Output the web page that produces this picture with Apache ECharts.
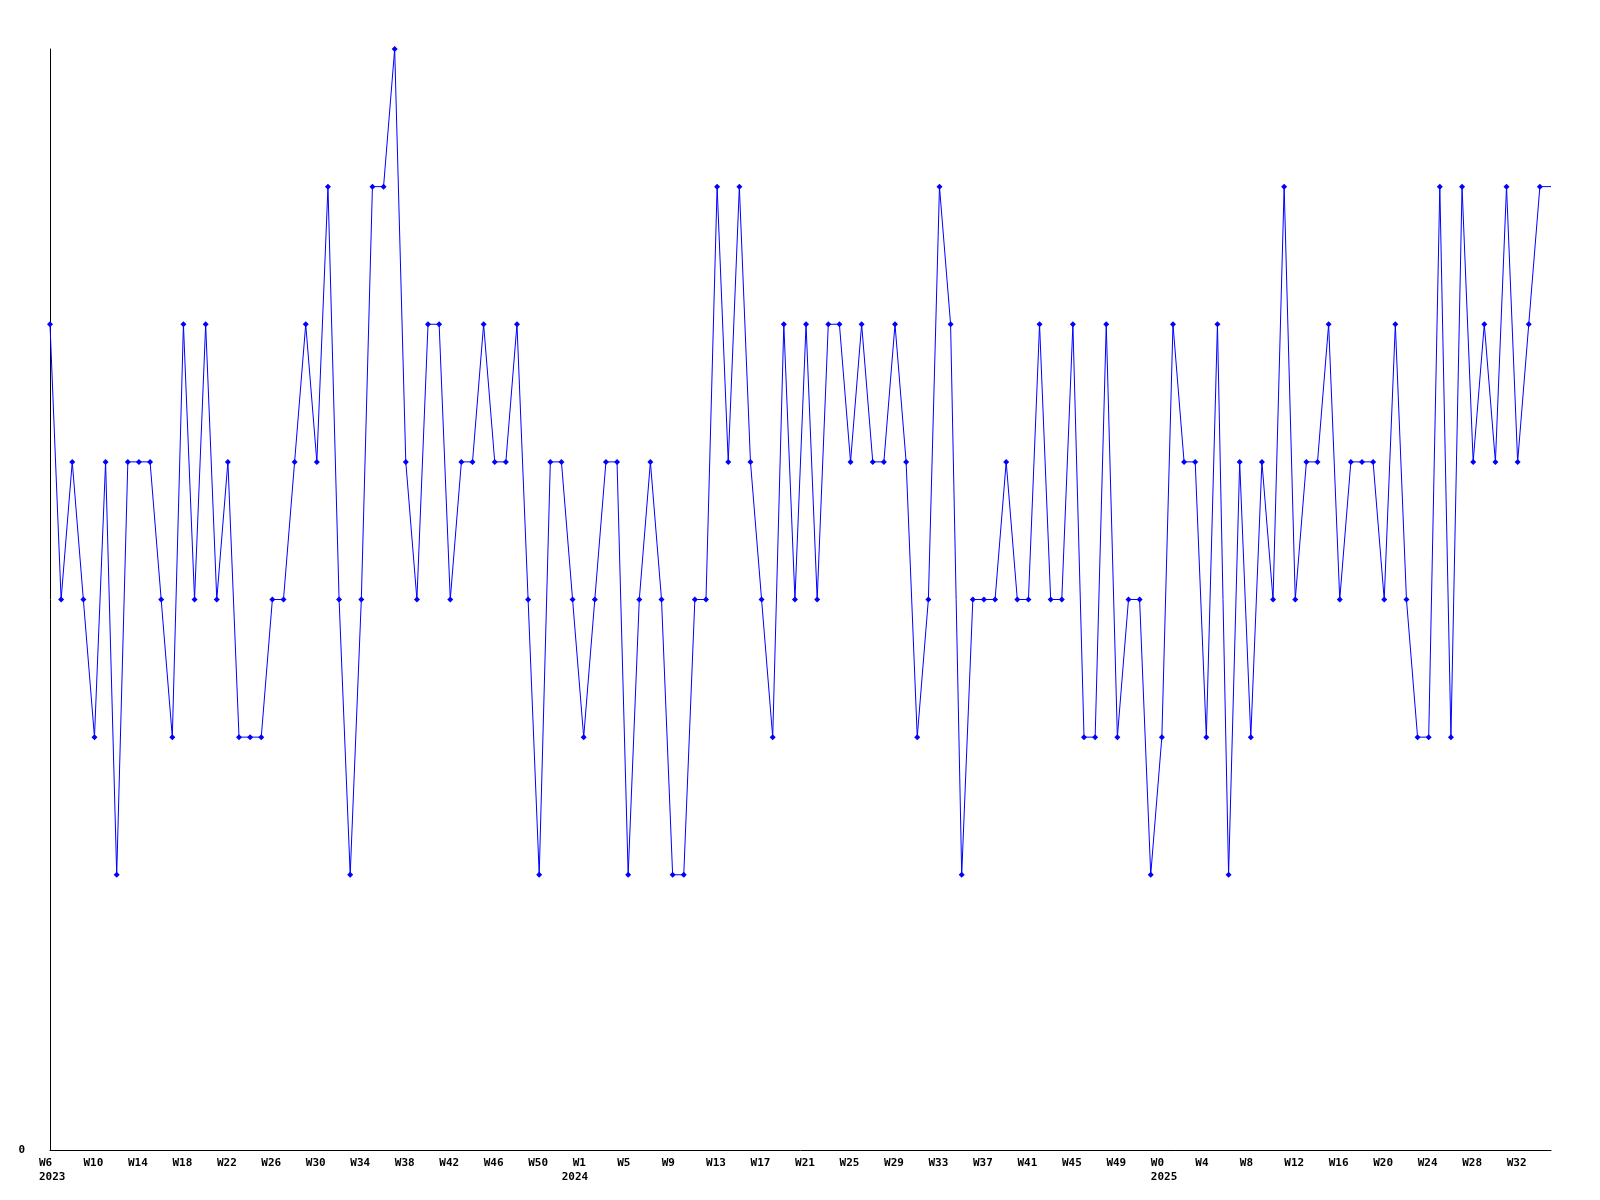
<!DOCTYPE html>
<html>
<head>
<meta charset="utf-8">
<script src="https://cdn.jsdelivr.net/npm/echarts@6/dist/echarts.min.js"></script>
<style>
html,body{margin:0;padding:0;background:#fff;}
#chart{width:1600px;height:1200px;}
</style>
</head>
<body>
<div id="chart"></div>
<script>
// Weekly values, first point W6 2023
const values = [
  6,4,5,4,3,5,2,5,5,5,
  4,3,6,4,6,4,5,3,3,3,
  4,4,5,6,5,7,4,2,4,7,
  7,8,5,4,6,6,4,5,5,6,
  5,5,6,4,2,5,5,4,3,4,
  5,5,2,4,5,4,2,2,4,4,
  7,5,7,5,4,3,6,4,6,4,
  6,6,5,6,5,5,6,5,3,4,
  7,6,2,4,4,4,5,4,4,6,
  4,4,6,3,3,6,3,4,4,2,
  3,6,5,5,3,6,2,5,3,5,
  4,7,4,5,5,6,4,5,5,5,
  4,6,4,3,3,7,3,7,5,6,
  5,7,5,6,7,7
];
// Tick labels, one every 4 weeks
const tickLabels = [
  'W6','W10','W14','W18','W22','W26','W30','W34','W38','W42','W46','W50',
  'W1','W5','W9','W13','W17','W21','W25','W29','W33','W37','W41','W45','W49',
  'W0','W4','W8','W12','W16','W20','W24','W28','W32'
];
// Year shown under the given tick label index
const tickYears = {0: '2023', 12: '2024', 25: '2025'};
const tickEvery = 4;

// layout: year labels that sit a little before their week label
const yearLead = {12: true};

const categories = values.map((v, i) => String(i));
const seriesData = values.map((v, i) => i === values.length - 1 ? {value: v, symbol: 'none'} : v);

const chart = echarts.init(document.getElementById('chart'));
const font = '"DejaVu Sans Mono", monospace';
const txt = {fontFamily: font, fontWeight: 'bold', fontSize: 11, lineHeight: 14, color: '#000'};
chart.setOption({
  animation: false,
  backgroundColor: '#ffffff',
  grid: {left: 50, right: 49, top: 49, bottom: 50, containLabel: false, outerBoundsMode: 'none'},
  xAxis: {
    type: 'category',
    data: categories,
    boundaryGap: false,
    axisLine: {show: true, lineStyle: {color: '#000', width: 1}},
    axisTick: {show: false},
    splitLine: {show: false},
    axisLabel: {
      interval: (i) => i % tickEvery === 0,
      margin: 6,
      align: 'center',
      formatter: (val, i) => {
        const k = i / tickEvery;
        const lab = tickLabels[k] || '';
        const yr = tickYears[k];
        if (!yr) return '{a|' + lab + '}';
        if (yearLead[k]) return '{s|}{a|' + lab + '}{s|}\n{w|' + yr + '}';
        return '{a|' + lab + '}\n{a|' + yr + '}';
      },
      rich: {
        a: Object.assign({width: 22, align: 'left'}, txt),
        s: Object.assign({width: 11, align: 'left'}, txt),
        w: Object.assign({width: 44, align: 'left'}, txt)
      }
    }
  },
  yAxis: {
    type: 'value',
    min: 0,
    max: 8,
    interval: 8,
    axisLine: {show: true, lineStyle: {color: '#000', width: 1}},
    axisTick: {show: false},
    splitLine: {show: false},
    axisLabel: {
      margin: 25,
      fontFamily: font,
      fontWeight: 'bold',
      fontSize: 11,
      color: '#000',
      formatter: (v) => v === 0 ? '0' : ''
    }
  },
  series: [{
    type: 'line',
    data: seriesData,
    smooth: false,
    symbol: 'diamond',
    symbolSize: 6,
    showAllSymbol: true,
    lineStyle: {color: '#0000ff', width: 1},
    itemStyle: {color: '#0000ff'},
    clip: false
  }]
});
</script>
</body>
</html>
